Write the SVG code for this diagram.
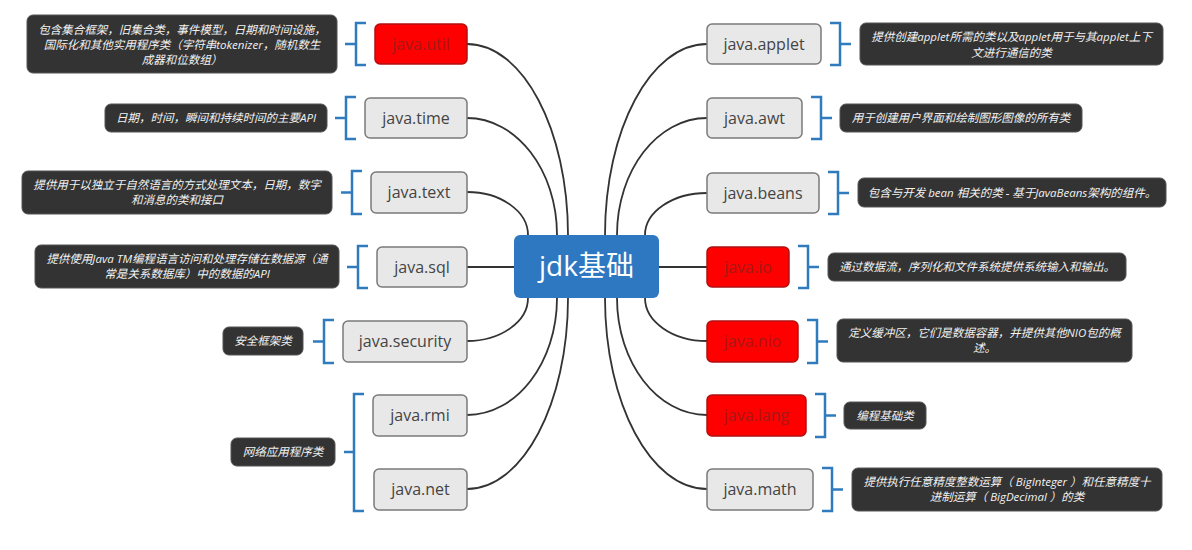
<svg xmlns="http://www.w3.org/2000/svg" width="1192" height="550" viewBox="0 0 1192 550">
<style>
.n rect{fill:#e8e8e8;stroke:#7a7a7a;stroke-width:1.5}
.n text{font-family:"Open Sans","Noto Sans",sans-serif;font-size:16px;fill:#444;text-anchor:middle}
.r rect{fill:#ff0000;stroke:#b01010;stroke-width:1.5}
.r text{font-family:"Open Sans","Noto Sans",sans-serif;font-size:16px;fill:#a81818;text-anchor:middle}
.d rect{fill:#333333;stroke:#555;stroke-width:1}
.d text{font-family:"Open Sans","Noto Sans CJK SC",sans-serif;font-size:11.5px;font-style:italic;fill:#f2f2f2;text-anchor:middle}
.b{fill:none;stroke:#2f7bbd;stroke-width:2.5}
#connectors path{fill:none;stroke:#333;stroke-width:1.8}
</style>
<rect width="1192" height="550" fill="#ffffff"/>
<g id="connectors">
<path d="M467 44 C522.8 44 568 129.6 568 235"/>
<path d="M467 118 C516.7 118 557 170.4 557 235"/>
<path d="M467 192 C500.7 192 528 211.3 528 235"/>
<path d="M467 267 L514 267"/>
<path d="M467 341 C500.7 341 528 321.7 528 298"/>
<path d="M467 415 C516.7 415 557 362.6 557 298"/>
<path d="M467 489 C522.8 489 568 403.4 568 298"/>
<path d="M707 44 C650.7 44 605 129.6 605 235"/>
<path d="M707 118 C657.3 118 617 170.4 617 235"/>
<path d="M707 193 C672.8 193 645 211.8 645 235"/>
<path d="M659 267 L707 267"/>
<path d="M707 341 C672.8 341 645 321.7 645 298"/>
<path d="M707 415 C657.3 415 617 362.6 617 298"/>
<path d="M707 489 C650.7 489 605 403.4 605 298"/>
</g>
<g id="center">
<rect x="514" y="235" width="145" height="63" rx="6" fill="#2e78c2"/>
<text x="586.5" y="276" font-family="Open Sans,Noto Sans CJK SC,sans-serif" font-size="28" fill="#ffffff" text-anchor="middle">jdk基础</text>
</g>
<g id="util" class="r"><rect x="375" y="24" width="92" height="40" rx="5"/><text x="421" y="50">java.util</text></g>
<g id="time" class="n"><rect x="365" y="98" width="102" height="40" rx="5"/><text x="416" y="124">java.time</text></g>
<g id="text" class="n"><rect x="371" y="172" width="96" height="41" rx="5"/><text x="419" y="198">java.text</text></g>
<g id="sql" class="n"><rect x="377" y="247" width="90" height="40" rx="5"/><text x="422" y="273">java.sql</text></g>
<g id="security" class="n"><rect x="343" y="321" width="124" height="41" rx="5"/><text x="405" y="347">java.security</text></g>
<g id="rmi" class="n"><rect x="373" y="395" width="94" height="41" rx="5"/><text x="420" y="421">java.rmi</text></g>
<g id="net" class="n"><rect x="374" y="469" width="93" height="41" rx="5"/><text x="420.5" y="495">java.net</text></g>
<g id="applet" class="n"><rect x="707" y="24" width="114" height="40" rx="5"/><text x="764" y="50">java.applet</text></g>
<g id="awt" class="n"><rect x="707" y="98" width="95" height="40" rx="5"/><text x="754.5" y="124">java.awt</text></g>
<g id="beans" class="n"><rect x="707" y="173" width="112" height="40" rx="5"/><text x="763" y="199">java.beans</text></g>
<g id="io" class="r"><rect x="707" y="247" width="82" height="40" rx="5"/><text x="748" y="273">java.io</text></g>
<g id="nio" class="r"><rect x="707" y="321" width="91" height="41" rx="5"/><text x="752.5" y="347">java.nio</text></g>
<g id="lang" class="r"><rect x="707" y="395" width="99" height="41" rx="5"/><text x="756.5" y="421">java.lang</text></g>
<g id="math" class="n"><rect x="707" y="469" width="106" height="41" rx="5"/><text x="760" y="495">java.math</text></g>
<g id="brackets">
<path class="b" d="M366 23 H356 V65 H366 M345 44 H356"/>
<path class="b" d="M356 97 H346 V139 H356 M335 118 H346"/>
<path class="b" d="M362 171 H352 V214 H362 M341 192.5 H352"/>
<path class="b" d="M368 246 H358 V288 H368 M347 267 H358"/>
<path class="b" d="M334 320 H324 V363 H334 M313 341.5 H324"/>
<path class="b" d="M364 394 H354 V511 H364 M344 452 H354"/>
<path class="b" d="M830 23 H840 V65 H830 M840 44 H851"/>
<path class="b" d="M811 97 H821 V139 H811 M821 118 H832"/>
<path class="b" d="M828 172 H838 V214 H828 M838 193 H849"/>
<path class="b" d="M798 246 H808 V288 H798 M808 267 H819"/>
<path class="b" d="M807 320 H817 V363 H807 M817 341.5 H828"/>
<path class="b" d="M815 394 H825 V437 H815 M825 415.5 H836"/>
<path class="b" d="M822 468 H832 V511 H822 M832 489.5 H843"/>
</g>
<g id="desc-util" class="d"><rect x="27" y="15" width="310" height="58" rx="6"/><text x="182" y="34">包含集合框架，旧集合类，事件模型，日期和时间设施，</text><text x="182" y="49">国际化和其他实用程序类（字符串tokenizer，随机数生</text><text x="182" y="64">成器和位数组）</text></g>
<g id="desc-time" class="d"><rect x="105" y="104" width="222" height="28" rx="6"/><text x="216" y="122">日期，时间，瞬间和持续时间的主要API</text></g>
<g id="desc-text" class="d"><rect x="22" y="171" width="310" height="43" rx="6"/><text x="177" y="189">提供用于以独立于自然语言的方式处理文本，日期，数字</text><text x="177" y="204">和消息的类和接口</text></g>
<g id="desc-sql" class="d"><rect x="35" y="245" width="304" height="43" rx="6"/><text x="187" y="263">提供使用Java TM编程语言访问和处理存储在数据源（通</text><text x="187" y="278">常是关系数据库）中的数据的API</text></g>
<g id="desc-security" class="d"><rect x="223" y="327" width="80" height="28" rx="6"/><text x="263" y="345">安全框架类</text></g>
<g id="desc-net" class="d"><rect x="231" y="438" width="104" height="28" rx="6"/><text x="283" y="456">网络应用程序类</text></g>
<g id="desc-applet" class="d"><rect x="860" y="23" width="303" height="42" rx="6"/><text x="1011.5" y="41">提供创建applet所需的类以及applet用于与其applet上下</text><text x="1011.5" y="57">文进行通信的类</text></g>
<g id="desc-awt" class="d"><rect x="840" y="104" width="242" height="28" rx="6"/><text x="961" y="122">用于创建用户界面和绘制图形图像的所有类</text></g>
<g id="desc-beans" class="d"><rect x="858" y="178" width="308" height="29" rx="6"/><text x="1012" y="197">包含与开发 bean 相关的类 - 基于JavaBeans架构的组件。</text></g>
<g id="desc-io" class="d"><rect x="828" y="253" width="298" height="28" rx="6"/><text x="977" y="271">通过数据流，序列化和文件系统提供系统输入和输出。</text></g>
<g id="desc-nio" class="d"><rect x="837" y="319" width="295" height="43" rx="6"/><text x="984.5" y="337">定义缓冲区，它们是数据容器，并提供其他NIO包的概</text><text x="984.5" y="352">述。</text></g>
<g id="desc-lang" class="d"><rect x="844" y="402" width="82" height="27" rx="6"/><text x="885" y="420">编程基础类</text></g>
<g id="desc-math" class="d"><rect x="852" y="468" width="310" height="43" rx="6"/><text x="1007" y="486">提供执行任意精度整数运算（ BigInteger ）和任意精度十</text><text x="1007" y="501">进制运算（ BigDecimal ）的类</text></g>
</svg>
